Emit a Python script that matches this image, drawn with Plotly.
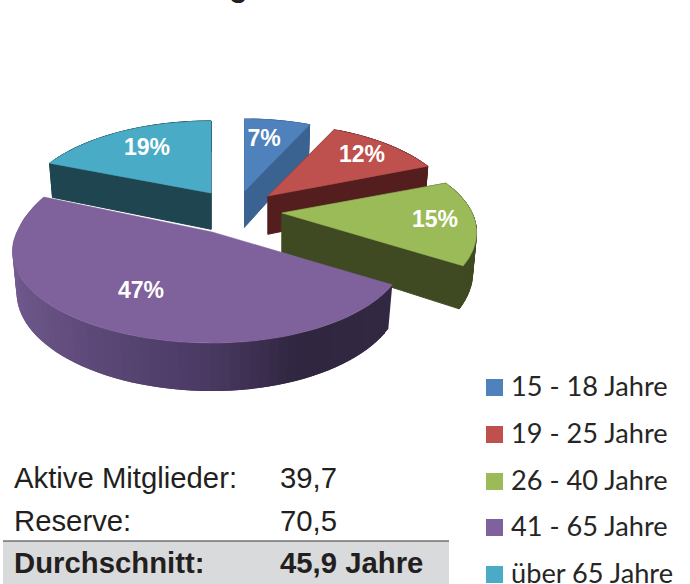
import numpy as np
import plotly.graph_objects as go

# ---- data ----
categories = ["15 - 18 Jahre", "19 - 25 Jahre", "26 - 40 Jahre", "41 - 65 Jahre", "über 65 Jahre"]
shares = [7, 12, 15, 47, 19]
table_labels = ["Aktive Mitglieder:", "Reserve:", "Durchschnitt:"]
table_values = ["39,7", "70,5", "45,9 Jahre"]
title_tail = "g"

# ---- styles / layout ----
top_colors = ["#4F81BD", "#BE504D", "#9BBB59", "#7F619C", "#4AABC6"]
wall_colors = ["#3A6391", "#541E1E", "#3F4A22", "#332843", "#1F4650"]
apexes = [(244.5, 191), (268, 196), (282, 213), (212, 232), (211, 193)]
depths = [37.0, 39.0, 40.0, 41.0, 37.0]
x_scale_right = [0.935, 0.95, 0.975, 0.97, 1.0]
x_scale_left = [1.0, 1.0, 1.0, 1.0, 0.96]
y_scale_back = [1.0, 1.0, 1.0, 1.17, 1.0]
label_xy = [(264, 140.5), (362, 156.5), (435, 221.5), (141, 292.5), (147, 149.5)]
purple_stops_u = [-1.0, -0.5, 0.0, 0.4, 1.0]
purple_stops_rgb = [(0x73, 0x5C, 0x90), (0x5E, 0x4A, 0x7A), (0x4A, 0x3A, 0x63), (0x30, 0x26, 0x3F), (0x34, 0x2A, 0x45)]
RX, RY, K, M = 195.0, 87.4, 0.213, 0.02
ARIAL = "Liberation Sans"


def project(i, theta, z=0.0, r=1.0):
    apex = apexes[i]
    u, v = r * np.sin(theta), r * np.cos(theta)
    w = 1 + K * v + M * z
    sx = np.where(u >= 0, x_scale_right[i], x_scale_left[i])
    sy = np.where(v >= 0, y_scale_back[i], 1.0)
    return apex[0] + RX * sx * u / w, apex[1] + (-RY * sy * v + depths[i] * z) / w


def poly(xs, ys, color, lw=0.6):
    return go.Scatter(x=list(map(float, xs)), y=list(map(float, ys)), mode="lines", fill="toself", fillcolor=color,
                      line=dict(color=color, width=lw), hoverinfo="skip", showlegend=False)


fig = go.Figure()
edges = np.radians(np.cumsum([0] + shares) * 3.6)

for i in range(len(shares)):
    apex, a0, a1 = apexes[i], edges[i], edges[i + 1]
    # outer wall, later segments overlap earlier ones to hide seams
    n = max(8, int((a1 - a0) * 24))
    th = np.linspace(a0, a1, n + 1)
    for j in range(n):
        end = th[min(j + 2, n)]
        tx0, ty0 = project(i, th[j], 0)
        tx1, ty1 = project(i, end, 0)
        txm, tym = project(i, (th[j] + end) / 2, 0)
        bx1, by1 = project(i, end, 1)
        bxm, bym = project(i, (th[j] + end) / 2, 1)
        bx0, by0 = project(i, th[j], 1)
        if i == 3:
            um = np.sin(th[j])
            rgb = [np.interp(um, purple_stops_u, [c[k] for c in purple_stops_rgb]) for k in range(3)]
            col = "rgb(%d,%d,%d)" % tuple(rgb)
        else:
            col = wall_colors[i]
        fig.add_trace(poly([tx0, txm, tx1, bx1, bxm, bx0, tx0], [ty0, tym, ty1, by1, bym, by0, ty0], col,
                           lw=0 if i == 3 else 1))
    # radial walls
    if i != 3:
        for a in (a0, a1):
            ex0, ey0 = project(i, a, 0)
            ex1, ey1 = project(i, a, 1)
            cx0, cy0 = project(i, a, 0, 0)
            cx1, cy1 = project(i, a, 1, 0)
            fig.add_trace(poly([cx0, ex0, ex1, cx1, cx0], [cy0, ey0, ey1, cy1, cy0], wall_colors[i], lw=1))
    # top face
    th = np.linspace(a0, a1, 80)
    px, py = project(i, th, 0)
    fig.add_trace(poly(np.r_[apex[0], px, apex[0]], np.r_[apex[1], py, apex[1]], top_colors[i]))

# slice labels
fig.add_trace(go.Scatter(x=[p[0] for p in label_xy], y=[p[1] for p in label_xy], mode="text",
                         text=[f"{s}%" for s in shares], textposition="middle center",
                         textfont=dict(family=ARIAL, size=23, color="white", weight="bold"),
                         hoverinfo="skip", showlegend=False))

# legend
marker_y = [387.5, 434.5, 481.5, 527.5, 574.5]
legend_text_y = [389.5, 436, 483, 529.5, 576]
fig.add_trace(go.Scatter(x=[494.5] * 5, y=marker_y, mode="markers",
                         marker=dict(symbol="square", size=17, color=top_colors, line=dict(width=0)),
                         hoverinfo="skip", showlegend=False))
fig.add_trace(go.Scatter(x=[511] * 5, y=legend_text_y, mode="text", text=categories, textposition="middle right",
                         textfont=dict(family="Lato", size=27.2, color="#262626"),
                         hoverinfo="skip", showlegend=False))

# table
fig.add_shape(type="rect", x0=3, x1=449, y0=541, y1=584, fillcolor="#D9DADC", line_width=0, layer="below")
fig.add_shape(type="line", x0=3, x1=449, y0=541, y1=541, line=dict(color="#333333", width=1))
row_y = [481, 524, 566]
for col_x, col in ((14, table_labels), (280, table_values)):
    for k, (y, t) in enumerate(zip(row_y, col)):
        fig.add_trace(go.Scatter(x=[col_x], y=[y], mode="text", text=[t], textposition="middle right",
                                 textfont=dict(family=ARIAL, size=29.3, color="#231F20",
                                               weight="bold" if k == 2 else "normal"),
                                 hoverinfo="skip", showlegend=False))

# clipped title tail
fig.add_annotation(xref="paper", yref="paper", x=238 / 690, y=1, yanchor="bottom", xanchor="center",
                   yshift=-5, showarrow=False, text=f"<b>{title_tail}</b>",
                   font=dict(family=ARIAL, size=31, color="#231F20"))

fig.update_layout(width=690, height=584, margin=dict(l=0, r=0, t=0, b=0),
                  paper_bgcolor="white", plot_bgcolor="white", showlegend=False,
                  xaxis=dict(range=[0, 690], visible=False, fixedrange=True),
                  yaxis=dict(range=[584, 0], visible=False, fixedrange=True))
fig.write_html("out.html", config={"displayModeBar": False},
               post_script="document.body.style.margin='0';document.body.style.overflow='hidden';")
